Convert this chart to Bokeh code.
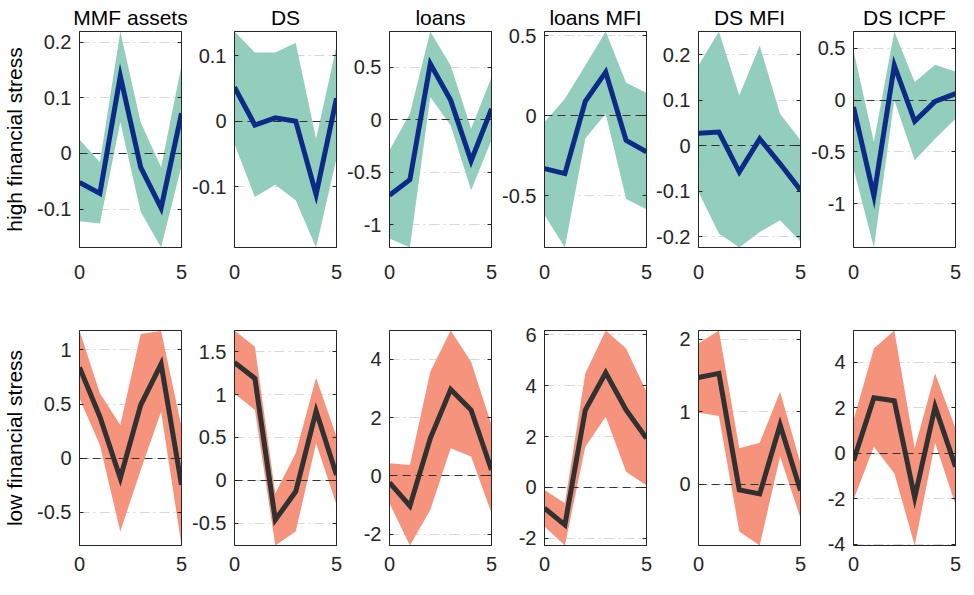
from bokeh.plotting import figure
from bokeh.layouts import gridplot
from bokeh.models import Range1d, FixedTicker, LinearAxis
from bokeh.embed import file_html
from bokeh.resources import INLINE

# horizon
steps = [0, 1, 2, 3, 4, 5]

titles = ["MMF assets", "DS", "loans", "loans MFI", "DS MFI", "DS ICPF"]
row_labels = ["high financial stress", "low financial stress"]

# high financial stress: median response and band (lower / upper)
hi_mmf_med = [-0.052, -0.072, 0.139, -0.025, -0.098, 0.072]
hi_mmf_lo = [-0.122, -0.126, 0.056, -0.105, -0.169, -0.022]
hi_mmf_up = [0.025, -0.016, 0.219, 0.056, -0.025, 0.158]

hi_ds_med = [0.052, -0.006, 0.005, 0.0, -0.112, 0.035]
hi_ds_lo = [-0.035, -0.116, -0.097, -0.121, -0.193, -0.057]
hi_ds_up = [0.137, 0.105, 0.105, 0.12, -0.027, 0.115]

hi_loans_med = [-0.718, -0.57, 0.532, 0.184, -0.392, 0.104]
hi_loans_lo = [-1.13, -1.215, 0.215, -0.054, -0.67, -0.196]
hi_loans_up = [-0.29, 0.057, 0.839, 0.516, -0.085, 0.405]

hi_lmfi_med = [-0.33, -0.361, 0.089, 0.272, -0.154, -0.226]
hi_lmfi_lo = [-0.62, -0.822, -0.143, 0.012, -0.52, -0.583]
hi_lmfi_up = [-0.04, 0.106, 0.313, 0.525, 0.205, 0.143]

hi_dsmfi_med = [0.027, 0.03, -0.058, 0.015, -0.04, -0.098]
hi_dsmfi_lo = [-0.102, -0.193, -0.224, -0.19, -0.164, -0.211]
hi_dsmfi_up = [0.176, 0.251, 0.11, 0.22, 0.07, 0.012]

hi_icpf_med = [-0.067, -0.923, 0.333, -0.205, -0.013, 0.061]
hi_icpf_lo = [-0.66, -1.42, -0.003, -0.58, -0.372, -0.179]
hi_icpf_up = [0.478, -0.404, 0.66, 0.173, 0.34, 0.276]

# low financial stress
lo_mmf_med = [0.839, 0.384, -0.184, 0.492, 0.87, -0.246]
lo_mmf_lo = [0.553, 0.123, -0.676, -0.108, 0.43, -0.805]
lo_mmf_up = [1.18, 0.6, 0.307, 1.147, 1.175, 0.292]

lo_ds_med = [1.374, 1.188, -0.462, -0.132, 0.807, 0.062]
lo_ds_lo = [1.013, 0.819, -0.761, -0.598, 0.431, -0.287]
lo_ds_up = [1.747, 1.557, -0.151, 0.314, 1.196, 0.509]

lo_loans_med = [-0.229, -1.029, 1.291, 2.971, 2.263, 0.206]
lo_loans_lo = [-0.937, -2.389, -1.166, 0.949, 0.663, -1.28]
lo_loans_up = [0.434, 0.377, 3.577, 4.994, 3.92, 1.749]

lo_lmfi_med = [-0.826, -1.482, 3.043, 4.511, 3.043, 1.928]
lo_lmfi_lo = [-1.548, -2.295, 1.6, 2.78, 0.616, 0.066]
lo_lmfi_up = [-0.105, -0.63, 4.485, 6.177, 5.469, 3.764]

lo_dsmfi_med = [1.472, 1.528, -0.078, -0.133, 0.817, -0.087]
lo_dsmfi_lo = [0.986, 0.94, -0.651, -0.844, 0.381, -0.468]
lo_dsmfi_up = [1.94, 2.119, 0.495, 0.573, 1.275, 0.289]

lo_icpf_med = [-0.322, 2.447, 2.315, -1.949, 2.051, -0.586]
lo_icpf_lo = [-2.051, 0.293, -0.879, -4.06, 0.469, -2.271]
lo_icpf_up = [1.465, 4.615, 5.407, 0.22, 3.516, 1.099]

# y tick values per panel
hi_ticks = [[-0.1, 0, 0.1, 0.2], [-0.1, 0, 0.1], [-1, -0.5, 0, 0.5],
            [-0.5, 0, 0.5], [-0.2, -0.1, 0, 0.1, 0.2], [-1, -0.5, 0, 0.5]]
lo_ticks = [[-0.5, 0, 0.5, 1], [-0.5, 0, 0.5, 1, 1.5], [-2, 0, 2, 4],
            [-2, 0, 2, 4, 6], [0, 1, 2], [-4, -2, 0, 2, 4]]
x_ticks = [0, 5]

hi_panels = [(hi_mmf_med, hi_mmf_lo, hi_mmf_up), (hi_ds_med, hi_ds_lo, hi_ds_up),
             (hi_loans_med, hi_loans_lo, hi_loans_up), (hi_lmfi_med, hi_lmfi_lo, hi_lmfi_up),
             (hi_dsmfi_med, hi_dsmfi_lo, hi_dsmfi_up), (hi_icpf_med, hi_icpf_lo, hi_icpf_up)]
lo_panels = [(lo_mmf_med, lo_mmf_lo, lo_mmf_up), (lo_ds_med, lo_ds_lo, lo_ds_up),
             (lo_loans_med, lo_loans_lo, lo_loans_up), (lo_lmfi_med, lo_lmfi_lo, lo_lmfi_up),
             (lo_dsmfi_med, lo_dsmfi_lo, lo_dsmfi_up), (lo_icpf_med, lo_icpf_lo, lo_icpf_up)]

FONT = "Liberation Sans"
AX = "#262626"
left_borders = [76, 44, 47, 47, 46, 47]
right_borders = [8, 6, 6, 6, 6, 6]


def make_panel(col, row, med, lo, up, ticks):
    top = row == 0
    p = figure(frame_width=102, frame_height=216 if top else 215,
               min_border_left=left_borders[col], min_border_right=right_borders[col],
               min_border_top=30 if top else 10,
               min_border_bottom=73 if top else 35,
               x_range=Range1d(0, 5), y_range=Range1d(min(lo), max(up)),
               title=titles[col] if top else None,
               toolbar_location=None, output_backend="svg")

    band = "#92CEBB" if top else "#F6937D"
    colour = "#0C2B86" if top else "#313131"
    p.varea(x=steps, y1=lo, y2=up, fill_color=band)
    p.hspan(y=0, line_color="#333333", line_width=1, line_dash="8 5")
    p.line(steps, med, line_color=colour, line_width=5, line_join="miter")

    if top:
        p.title.text_font = FONT
        p.title.text_font_size = "21px"
        p.title.text_font_style = "normal"
        p.title.text_color = "#000000"
        p.title.align = "center"
        p.title.standoff = 6

    yax = p.left[0]
    xax = p.below[0]
    yax.ticker = FixedTicker(ticks=ticks)
    yax.major_label_overrides = {t: "%g" % t for t in ticks}
    xax.ticker = FixedTicker(ticks=x_ticks)
    for ax in (xax, yax):
        ax.major_label_text_font = FONT
        ax.major_label_text_font_size = "20px"
        ax.major_label_text_color = AX
        ax.axis_line_color = AX
        ax.major_tick_line_color = AX
        ax.major_tick_out = 0
        ax.minor_tick_out = 0
        ax.minor_tick_in = 0
    yax.major_tick_in = 4
    xax.major_tick_in = 0
    yax.major_label_standoff = 8
    xax.major_label_standoff = 17 if top else 11

    # ticks on the right side of the box
    right = LinearAxis(ticker=FixedTicker(ticks=ticks), major_label_text_font_size="0px",
                       major_label_standoff=0, major_tick_in=4, major_tick_out=0,
                       minor_tick_in=0, minor_tick_out=0, axis_line_color=AX,
                       major_tick_line_color=AX)
    right.major_label_overrides = {t: "" for t in ticks}
    p.add_layout(right, "right")

    if col == 0:
        yax.axis_label = row_labels[row]
        yax.axis_label_text_font = FONT
        yax.axis_label_text_font_size = "21px"
        yax.axis_label_text_font_style = "normal"
        yax.axis_label_text_color = "#000000"
        yax.axis_label_standoff = 8

    p.xgrid.visible = False
    p.ygrid.ticker = FixedTicker(ticks=ticks)
    p.ygrid.grid_line_color = "#d8d8d8"
    p.ygrid.grid_line_dash = "10 4 2 4"
    p.outline_line_color = AX
    p.outline_line_alpha = 1.0
    p.background_fill_color = "white"
    p.border_fill_color = "white"
    return p


grid_rows = []
for row, (panels, ticks_row) in enumerate([(hi_panels, hi_ticks), (lo_panels, lo_ticks)]):
    grid_rows.append([make_panel(c, row, m, l, u, ticks_row[c])
                      for c, (m, l, u) in enumerate(panels)])

p = gridplot(grid_rows, toolbar_location=None)

open("out.html", "w").write(file_html(p, INLINE))
